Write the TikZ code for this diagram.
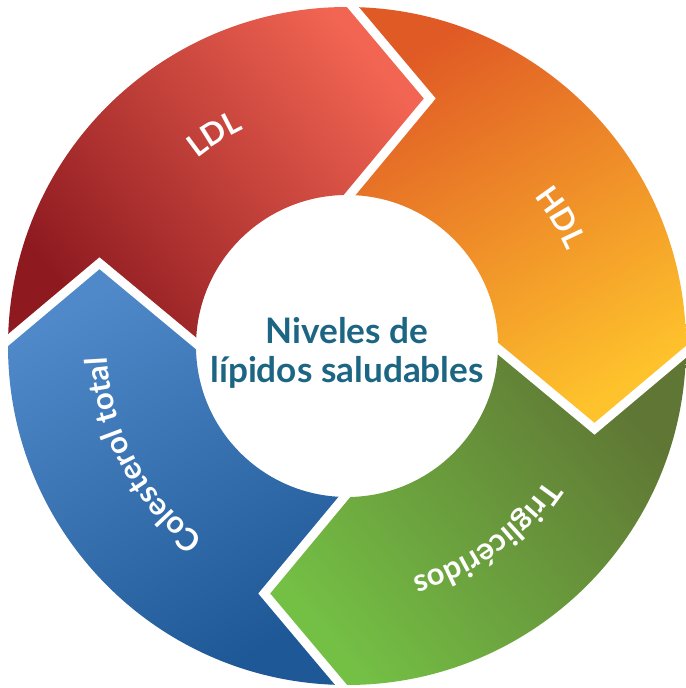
\documentclass[tikz,border=0pt]{standalone}
\usepackage{fontspec}
\setmainfont{Lato}
\usepackage{xcolor}
\usetikzlibrary{decorations.text}

\definecolor{ldldark}{HTML}{8E1A20}
\definecolor{ldlmid}{HTML}{B42328}
\definecolor{ldllight}{HTML}{F26552}
\definecolor{hdldark}{HTML}{E05A25}
\definecolor{hdllight}{HTML}{FEC22C}
\definecolor{trigdark}{HTML}{5F7634}
\definecolor{triglight}{HTML}{74C045}
\definecolor{coldark}{HTML}{1E5896}
\definecolor{collight}{HTML}{5089C9}
\definecolor{titleblue}{HTML}{1C6583}

\newcommand{\outerR}{8.475}
\newcommand{\innerR}{3.775}
\newcommand{\tipR}{6.525}
\newcommand{\labelR}{6.0}
\newcommand{\labelfont}{\fontsize{22}{22}\selectfont\bfseries}

% one arrow piece of the ring, from angle #1 clockwise to angle #2
\newcommand{\ringpiece}[2]{(#1:\outerR) arc[start angle=#1, end angle=#2, radius=\outerR]
  -- ({#2-17.5}:\tipR) -- (#2:\innerR) arc[start angle=#2, end angle=#1, radius=\innerR]
  -- ({#1-17.5}:\tipR) -- cycle}

\begin{document}
\begin{tikzpicture}[
    gap/.style={draw=white, line width=0.225cm, line join=miter, shorten <=-0.3cm, shorten >=-0.3cm},
    ringlabel/.style={decorate, decoration={text along path, text color=white, text align=center, text={|\labelfont|#1}}}
  ]
  \useasboundingbox (-8.675,-8.55) rectangle (8.475,8.65);

  % the four coloured pieces
  \shade[bottom color=ldldark, middle color=ldlmid, top color=ldllight, shading angle=-50] \ringpiece{179}{89};
  \shade[bottom color=hdldark, top color=hdllight, shading angle=-150] \ringpiece{89}{-1};
  \shade[bottom color=triglight, top color=trigdark, shading angle=-50] \ringpiece{-1}{-91};
  \shade[bottom color=collight, top color=coldark, shading angle=-150] \ringpiece{-91}{-181};

  % white chevrons between the pieces
  \foreach \b in {89,-1,-91,179}
    \draw[gap] (\b:\outerR) -- ({\b-17.5}:\tipR) -- (\b:\innerR);

  % labels on the ring
  \path[ringlabel=LDL] (162:\labelR) arc[start angle=162, end angle=82, radius=\labelR];
  \path[ringlabel=HDL] (71:\labelR) arc[start angle=71, end angle=-9, radius=\labelR];
  \path[ringlabel=Triglicéridos] (-4:\labelR) arc[start angle=-4, end angle=-104, radius=\labelR];
  \path[ringlabel=Colesterol total] (263:\labelR) arc[start angle=263, end angle=153, radius=\labelR];

  \node[align=center, text=titleblue, font=\fontsize{25}{27.7}\selectfont\bfseries] (title) at (0,-0.17)
    {Niveles de\\lípidos saludables};
\end{tikzpicture}
\end{document}
